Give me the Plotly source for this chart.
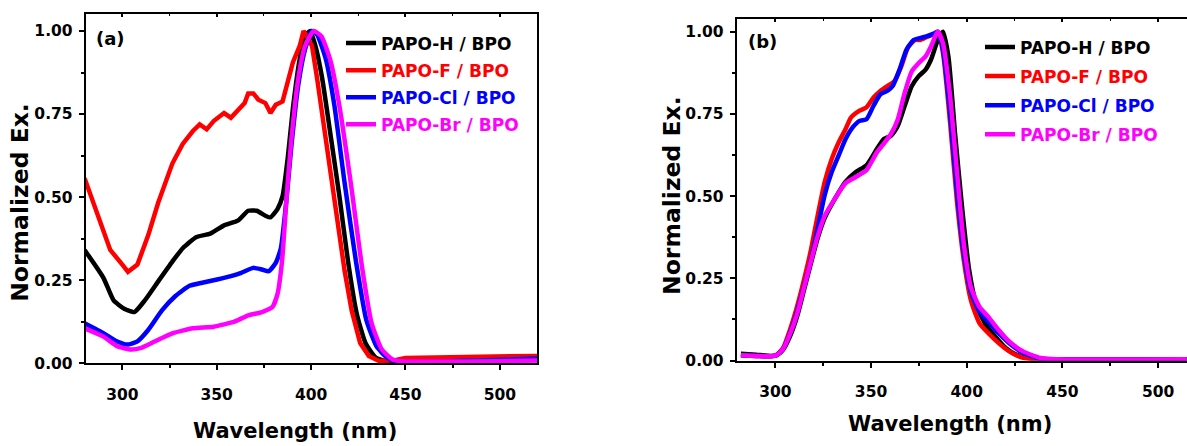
import plotly.graph_objects as go

# ---------------- data ----------------
series_names = ["PAPO-H / BPO", "PAPO-F / BPO", "PAPO-Cl / BPO", "PAPO-Br / BPO"]
series_colors = ["#000000", "#ff0000", "#0000ff", "#ff00ff"]

# panel (a)
a_h_nm = [280, 290, 295.4, 301, 306.4, 311.9, 319.2, 326.5, 332, 339.3, 346.6, 353.9, 361.2, 366.7, 371.2, 375.8, 378.5, 382.2, 384.9, 387.7, 390.4, 394, 396.8, 399.5, 402.3, 405.9, 410.5, 415, 419.6, 424.2, 428.8, 434.2, 439.7, 450, 520]
a_h_val = [0.341, 0.257, 0.189, 0.164, 0.154, 0.189, 0.248, 0.306, 0.346, 0.38, 0.39, 0.415, 0.429, 0.459, 0.459, 0.444, 0.439, 0.464, 0.503, 0.621, 0.768, 0.916, 0.984, 1.0, 0.955, 0.857, 0.68, 0.503, 0.306, 0.149, 0.061, 0.017, 0.006, 0.006, 0.01]

a_f_nm = [280, 288, 293.6, 300, 303, 308, 313.7, 319, 326.5, 332, 337.4, 341, 344.7, 348.4, 353.9, 357.5, 361.2, 364.8, 366.7, 369.4, 372.1, 375.8, 378.5, 381.3, 384.9, 386.8, 390.4, 394, 396, 397.7, 400.5, 403.2, 406.8, 410.5, 414.2, 417.8, 421.5, 426, 430.6, 436, 445, 450, 520]
a_f_val = [0.557, 0.434, 0.341, 0.297, 0.275, 0.297, 0.385, 0.483, 0.601, 0.66, 0.699, 0.719, 0.704, 0.729, 0.753, 0.739, 0.763, 0.783, 0.812, 0.812, 0.793, 0.783, 0.753, 0.778, 0.788, 0.827, 0.906, 0.955, 1.0, 0.984, 0.955, 0.857, 0.719, 0.572, 0.424, 0.277, 0.159, 0.061, 0.022, 0.007, 0.01, 0.016, 0.022]

a_cl_nm = [280, 290, 297, 302.7, 308, 313.7, 321, 328.3, 335.6, 342.9, 350.2, 357.5, 363, 369.4, 374, 377.6, 381.3, 384, 386.8, 389.5, 393.2, 396.8, 400.5, 403.2, 407.8, 412.3, 417.8, 423.8, 429.3, 434.7, 440.2, 445.5, 520]
a_cl_val = [0.12, 0.09, 0.066, 0.056, 0.066, 0.1, 0.159, 0.203, 0.233, 0.243, 0.252, 0.262, 0.272, 0.287, 0.282, 0.277, 0.302, 0.346, 0.483, 0.65, 0.837, 0.945, 1.0, 0.989, 0.916, 0.778, 0.542, 0.306, 0.13, 0.051, 0.017, 0.006, 0.014]

a_br_nm = [280, 290, 297.3, 304.6, 310, 317.4, 326.5, 337.4, 348.4, 359.4, 366.7, 374, 379.5, 382.2, 384.6, 387.1, 389.5, 393.2, 396.8, 401.4, 405.5, 410.5, 415.2, 421.3, 426.8, 432.1, 437.5, 443, 448, 520]
a_br_val = [0.105, 0.08, 0.051, 0.041, 0.046, 0.066, 0.09, 0.105, 0.11, 0.125, 0.144, 0.154, 0.169, 0.208, 0.306, 0.503, 0.67, 0.857, 0.955, 1.0, 0.984, 0.906, 0.768, 0.532, 0.297, 0.12, 0.041, 0.012, 0.006, 0.008]

# panel (b)
b_h_nm = [282, 290, 300, 304, 307.6, 311.3, 314.9, 318.5, 322.2, 325.8, 331.3, 336.7, 342.2, 347.6, 353.1, 356.7, 360.4, 364.0, 367.6, 371.3, 374.9, 378.5, 381.3, 384.9, 387.6, 390.4, 394.0, 397.6, 401.3, 404.9, 409.5, 414.9, 420.4, 425.8, 433.1, 447.6, 515]
b_h_val = [0.021, 0.018, 0.015, 0.033, 0.073, 0.133, 0.213, 0.294, 0.374, 0.434, 0.494, 0.544, 0.574, 0.594, 0.644, 0.674, 0.684, 0.714, 0.775, 0.835, 0.865, 0.885, 0.915, 0.975, 1.0, 0.925, 0.684, 0.464, 0.274, 0.173, 0.113, 0.073, 0.038, 0.018, 0.006, 0.004, 0.004]

b_f_nm = [282, 290, 300, 304, 307.6, 311.3, 314.9, 318.5, 322.2, 325.8, 329.5, 333.1, 336.7, 339.5, 344.0, 347.6, 351.3, 354.9, 358.5, 362.2, 365.8, 369.5, 373.1, 375.8, 379.5, 383.1, 384.9, 387.6, 391.3, 394.9, 398.5, 402.2, 406.7, 411.3, 416.7, 422.2, 429.5, 434.9, 515]
b_f_val = [0.016, 0.014, 0.015, 0.038, 0.093, 0.163, 0.244, 0.334, 0.444, 0.544, 0.614, 0.664, 0.704, 0.739, 0.76, 0.77, 0.8, 0.82, 0.835, 0.85, 0.895, 0.955, 0.975, 0.975, 0.985, 0.993, 1.0, 0.935, 0.724, 0.484, 0.304, 0.183, 0.113, 0.083, 0.053, 0.028, 0.008, 0.004, 0.004]

b_cl_nm = [282, 290, 300, 304, 307.6, 311.3, 314.9, 318.5, 322.2, 325.8, 329.5, 333.1, 336.7, 340.4, 344.0, 347.6, 351.3, 354.9, 358.5, 361.3, 364.9, 368.5, 372.2, 374.9, 378.5, 383.1, 384.9, 387.6, 391.3, 394.9, 398.5, 402.2, 406.7, 411.3, 416.7, 422.2, 429.5, 438.5, 447.6, 515]
b_cl_val = [0.016, 0.014, 0.015, 0.035, 0.083, 0.148, 0.224, 0.304, 0.404, 0.504, 0.574, 0.624, 0.674, 0.709, 0.729, 0.734, 0.775, 0.81, 0.82, 0.835, 0.885, 0.945, 0.975, 0.98, 0.985, 0.995, 1.0, 0.945, 0.754, 0.514, 0.324, 0.208, 0.148, 0.118, 0.083, 0.053, 0.023, 0.006, 0.004, 0.004]

b_br_nm = [282, 290, 300, 304, 307.6, 311.3, 314.9, 318.5, 322.2, 325.8, 331.3, 336.7, 342.2, 347.6, 353.1, 356.7, 360.4, 364.0, 367.6, 371.3, 374.9, 378.5, 381.3, 384.9, 387.6, 391.3, 394.9, 398.5, 402.2, 406.7, 411.3, 416.7, 422.2, 429.5, 438.5, 447.6, 515]
b_br_val = [0.016, 0.014, 0.015, 0.035, 0.08, 0.14, 0.22, 0.3, 0.38, 0.44, 0.494, 0.54, 0.559, 0.579, 0.634, 0.66, 0.689, 0.734, 0.815, 0.88, 0.905, 0.925, 0.955, 1.0, 0.965, 0.805, 0.574, 0.354, 0.223, 0.163, 0.133, 0.093, 0.058, 0.028, 0.008, 0.004, 0.004]

x_tick_vals = [300, 350, 400, 450, 500]
y_tick_vals = [0.0, 0.25, 0.5, 0.75, 1.0]
y_tick_text = ["0.00", "0.25", "0.50", "0.75", "1.00"]

# ---------------- figure ----------------
W, H = 1187, 446
FONT = "DejaVu Sans"

panel_a = [(a_h_nm, a_h_val), (a_f_nm, a_f_val), (a_cl_nm, a_cl_val), (a_br_nm, a_br_val)]
panel_b = [(b_h_nm, b_h_val), (b_f_nm, b_f_val), (b_cl_nm, b_cl_val), (b_br_nm, b_br_val)]

fig = go.Figure()

for i, (xs, ys) in enumerate(panel_a):
    fig.add_trace(go.Scatter(
        x=xs, y=ys, mode="lines",
        line=dict(color=series_colors[i], width=4.5, shape="linear" if i == 1 else "spline", smoothing=0.5),
        name='<span style="color:%s">%s</span>' % (series_colors[i], series_names[i]),
        legend="legend", legendgroup="a%d" % i, xaxis="x", yaxis="y"))

for i, (xs, ys) in enumerate(panel_b):
    fig.add_trace(go.Scatter(
        x=xs, y=ys, mode="lines",
        line=dict(color=series_colors[i], width=4.5, shape="spline", smoothing=0.6),
        name='<span style="color:%s">%s</span>' % (series_colors[i], series_names[i]),
        legend="legend2", legendgroup="b%d" % i, xaxis="x2", yaxis="y2"))

def px_x(p):
    return p / W

def px_y(p):
    return 1 - p / H

tickfont = dict(family=FONT, size=15.5, color="black", weight="bold")

common_x = dict(
    tickmode="array", tickvals=x_tick_vals, ticks="outside", ticklen=5, tickwidth=2,
    tickcolor="black", showline=True, linewidth=2, linecolor="black", mirror=True,
    showgrid=False, zeroline=False, tickfont=tickfont, ticklabelstandoff=11,
    minor=dict(ticks="outside", ticklen=3, tickwidth=1.5, tickcolor="black", dtick=25, tick0=300, showgrid=False),
)
common_y = dict(
    tickmode="array", tickvals=y_tick_vals, ticktext=y_tick_text, ticks="outside", ticklen=5, tickwidth=2,
    tickcolor="black", showline=True, linewidth=2, linecolor="black",
    showgrid=False, zeroline=False, tickfont=tickfont, ticklabelstandoff=3,
    minor=dict(ticks="outside", ticklen=3, tickwidth=1.5, tickcolor="black", dtick=0.125, tick0=0, showgrid=False),
)
top_ticks = dict(
    tickmode="array", tickvals=x_tick_vals, ticks="inside", ticklen=3, tickwidth=1.5,
    tickcolor="black", showticklabels=False, showline=False, showgrid=False, zeroline=False, side="top",
    minor=dict(ticks="inside", ticklen=2, tickwidth=1, tickcolor="black", dtick=25, tick0=300, showgrid=False),
)

legend_font = dict(family=FONT, size=17, color="black", weight="bold")

fig.update_layout(
    width=W, height=H,
    margin=dict(l=0, r=0, t=0, b=0),
    paper_bgcolor="white", plot_bgcolor="white",
    showlegend=True,
    xaxis=dict(domain=[px_x(85.7), px_x(537)], range=[280.6, 519.7], anchor="y", **common_x),
    yaxis=dict(domain=[px_y(370.7), px_y(14)], range=[0, 1.052], anchor="x", mirror=True, **common_y),
    xaxis2=dict(domain=[px_x(736.7), 1.0], range=[279.8, 515.1], anchor="y2", **common_x),
    yaxis2=dict(domain=[px_y(368), px_y(19)], range=[0, 1.04], anchor="x2", mirror=False, **common_y),
    xaxis3=dict(overlaying="x", matches="x", anchor="y", **top_ticks),
    xaxis4=dict(overlaying="x2", matches="x2", anchor="y2", **top_ticks),
    legend=dict(x=px_x(341), y=px_y(26), xanchor="left", yanchor="top", bgcolor="rgba(0,0,0,0)",
                font=legend_font, tracegroupgap=2, itemwidth=30, borderwidth=0),
    legend2=dict(x=px_x(980), y=px_y(30), xanchor="left", yanchor="top", bgcolor="rgba(0,0,0,0)",
                 font=legend_font, tracegroupgap=4, itemwidth=30, borderwidth=0),
)

# invisible helper traces so the top tick axes are drawn
fig.add_trace(go.Scatter(x=[300], y=[0.5], mode="lines", xaxis="x3", yaxis="y",
                         showlegend=False, hoverinfo="skip", line=dict(width=0)))
fig.add_trace(go.Scatter(x=[300], y=[0.5], mode="lines", xaxis="x4", yaxis="y2",
                         showlegend=False, hoverinfo="skip", line=dict(width=0)))

title_font_x = dict(family=FONT, size=21, color="black", weight="bold")
title_font_y = dict(family=FONT, size=23.5, color="black", weight="bold")
label_font = dict(family=FONT, size=18, color="black", weight="bold")

annotations = [
    dict(text="Wavelength (nm)", x=px_x(295), y=px_y(440), xref="paper", yref="paper",
         showarrow=False, font=title_font_x, xanchor="center", yanchor="middle"),
    dict(text="Wavelength (nm)", x=px_x(950), y=px_y(433), xref="paper", yref="paper",
         showarrow=False, font=title_font_x, xanchor="center", yanchor="middle"),
    dict(text="Normalized Ex.", x=px_x(20), y=px_y(207), xref="paper", yref="paper",
         showarrow=False, font=title_font_y, textangle=-90, xanchor="center", yanchor="middle"),
    dict(text="Normalized Ex.", x=px_x(672), y=px_y(200), xref="paper", yref="paper",
         showarrow=False, font=title_font_y, textangle=-90, xanchor="center", yanchor="middle"),
    dict(text="(a)", x=px_x(110), y=px_y(39), xref="paper", yref="paper",
         showarrow=False, font=label_font, xanchor="center", yanchor="middle"),
    dict(text="(b)", x=px_x(762), y=px_y(42), xref="paper", yref="paper",
         showarrow=False, font=label_font, xanchor="center", yanchor="middle"),
]
fig.update_layout(annotations=annotations)

fig.write_html("out.html")
